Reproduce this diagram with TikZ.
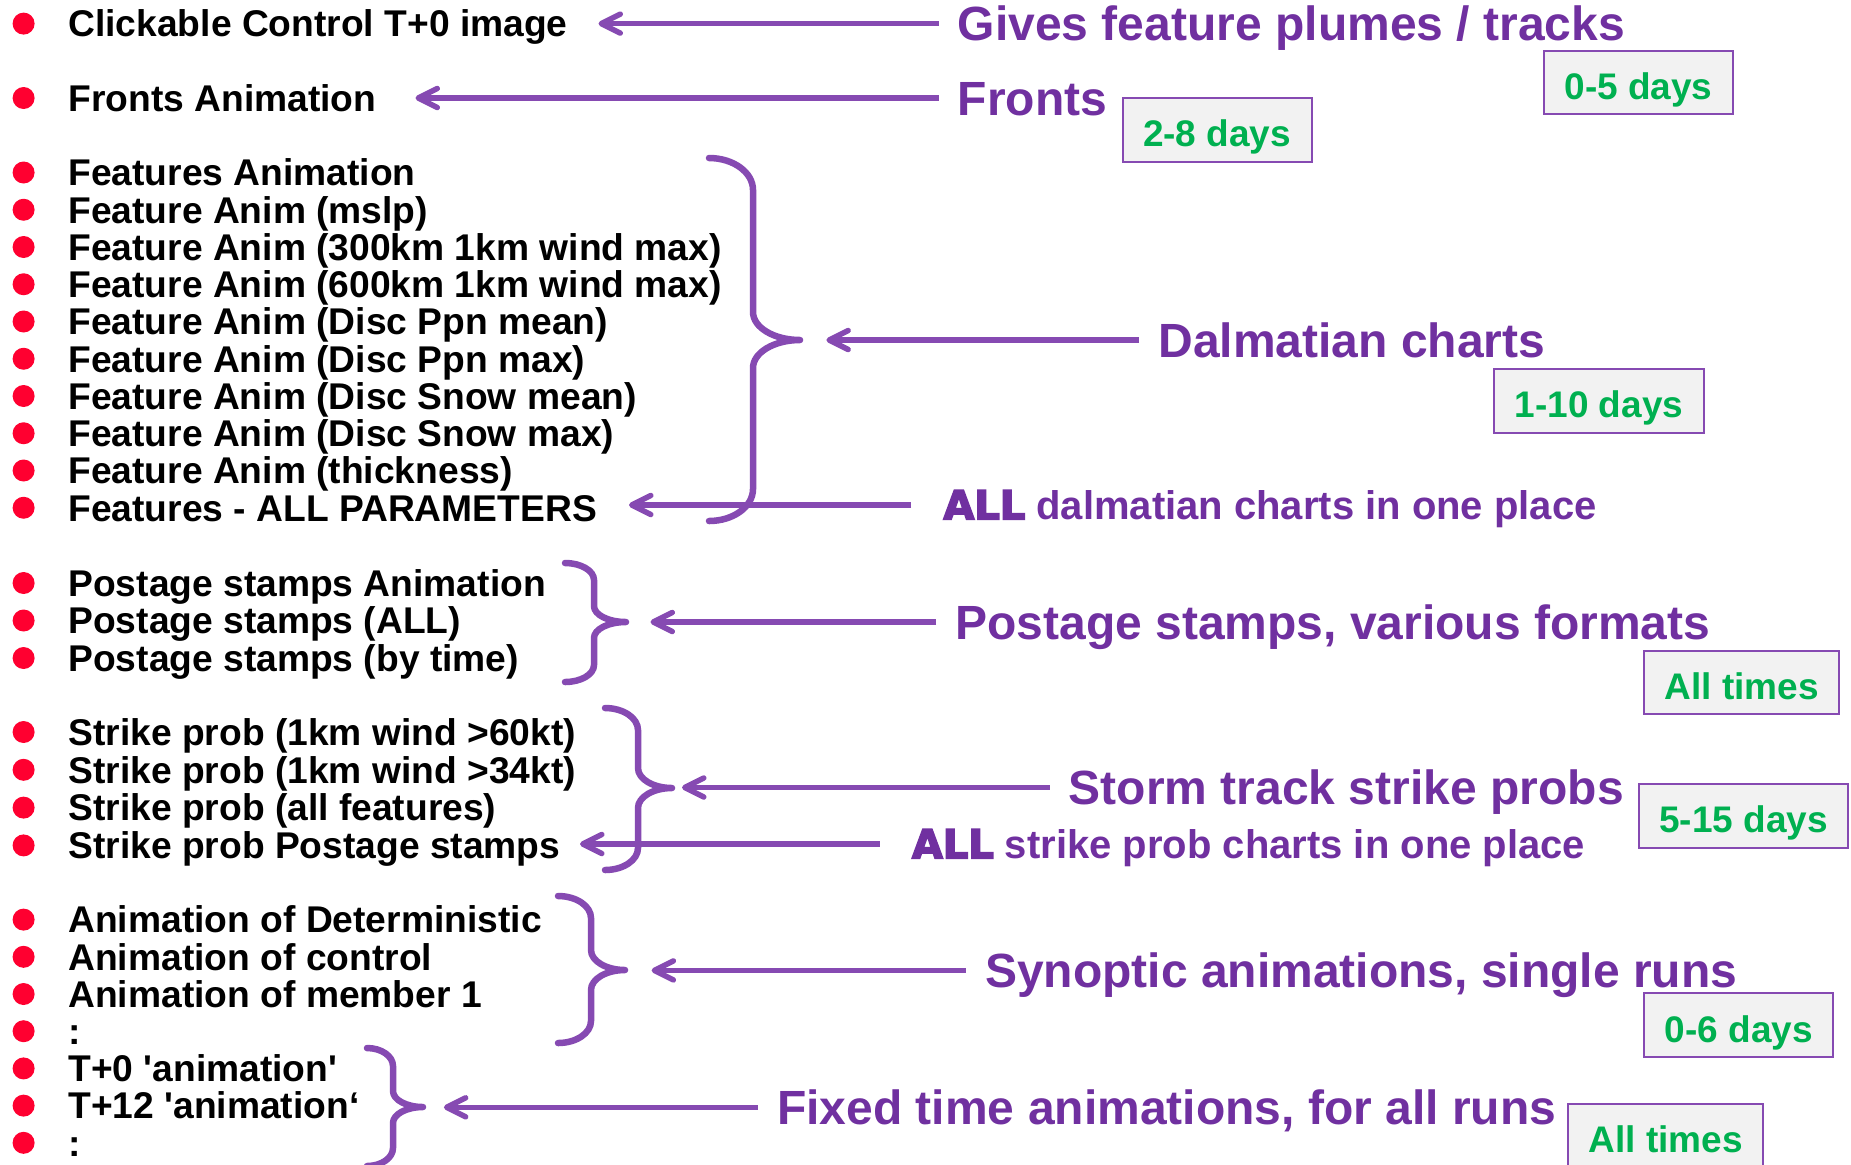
\documentclass[tikz,border=0pt]{standalone}
\usepackage{fontspec}
\setmainfont{Liberation Sans}[Ligatures=TeXOff]
\newfontface\heavyfont{DejaVu Sans Bold}[Ligatures=TeXOff,FakeBold=4]
\usetikzlibrary{arrows.meta}
\definecolor{txtpurple}{RGB}{112,48,160}
\definecolor{linepurple}{RGB}{134,74,178}
\definecolor{boxgreen}{RGB}{0,176,80}
\definecolor{boxfill}{RGB}{242,242,242}
\definecolor{bulletred}{RGB}{255,0,48}
\tikzset{
 listitem/.style={anchor=west, inner sep=0pt, font=\bfseries\fontsize{18.6pt}{22pt}\selectfont, text height=13.3pt, text depth=0pt},
 bul/.style={circle, fill=bulletred, minimum size=11pt, inner sep=0pt},
 lbl/.style={anchor=west, inner xsep=9.5pt, inner ysep=0pt, text=txtpurple, font=\bfseries\fontsize{24pt}{28pt}\selectfont, text height=17.2pt, text depth=0pt},
 lblsm/.style={anchor=west, inner xsep=16pt, inner ysep=0pt, text=txtpurple, font=\bfseries\fontsize{20pt}{24pt}\selectfont, text height=14.3pt, text depth=0pt},
 daybox/.style={draw=linepurple, line width=1pt, fill=boxfill, text=boxgreen, font=\bfseries\fontsize{18.5pt}{22pt}\selectfont, inner xsep=10.25pt, inner ysep=0pt, minimum height=31.85pt, text height=16.8pt, text depth=0pt},
 arr/.style={draw=linepurple, line width=2.75pt, -{Straight Barb[length=9.5pt,width=9.5pt,line cap=round,line join=round]}},
 bracestroke/.style={draw=linepurple, line width=3.25pt, line cap=round, line join=round},
}
% #1 x0, #2 x1, #3 x2, #4 ytop, #5 ymid, #6 ybot, #7 r, #8 r2
\newcommand{\drawcurlybrace}[8]{%
 \pgfmathsetmacro\bxa{#1+0.5523*(#2-#1)}%
 \pgfmathsetmacro\bya{#4+0.4477*#7}%
 \pgfmathsetmacro\byb{#4+#7}%
 \pgfmathsetmacro\byc{#5-#8}%
 \pgfmathsetmacro\byd{#5-0.4477*#8}%
 \pgfmathsetmacro\bxe{#3-0.5523*(#3-#2)}%
 \pgfmathsetmacro\byf{#5+#8}%
 \pgfmathsetmacro\byg{#5+0.4477*#8}%
 \pgfmathsetmacro\byh{#6-#7}%
 \pgfmathsetmacro\byi{#6-0.4477*#7}%
 \draw[bracestroke] (#1,#4) .. controls (\bxa,#4) and (#2,\bya) .. (#2,\byb) -- (#2,\byc) .. controls (#2,\byd) and (\bxe,#5) .. (#3,#5) .. controls (\bxe,#5) and (#2,\byg) .. (#2,\byf) -- (#2,\byh) .. controls (#2,\byi) and (\bxa,#6) .. (#1,#6);
}
\begin{document}
\begin{tikzpicture}[x=0.5pt,y=-0.5pt]
\fill[white] (0,0) rectangle (1851,1164);
\useasboundingbox (0,0) rectangle (1851,1164);
\begin{scope}
\clip (0,0) rectangle (1851,1164);

% ---------- left list ----------
\node[bul] (b1) at (23.6,23.6) {};
\node[listitem] (cc) at (68,23.6) {Clickable Control T+0 image};
\node[bul] (b2) at (23.6,98) {};
\node[listitem] (fa) at (68,98) {Fronts Animation};

\node[bul] (b3) at (23.6,172.5) {};
\node[listitem] (f1) at (68,172.5) {Features Animation};
\node[bul] (b4) at (23.6,209.75) {};
\node[listitem] (f2) at (68,209.75) {Feature Anim (mslp)};
\node[bul] (b5) at (23.6,247) {};
\node[listitem] (f3) at (68,247) {Feature Anim (300km 1km wind max)};
\node[bul] (b6) at (23.6,284.25) {};
\node[listitem] (f4) at (68,284.25) {Feature Anim (600km 1km wind max)};
\node[bul] (b7) at (23.6,321.5) {};
\node[listitem] (f5) at (68,321.5) {Feature Anim (Disc Ppn mean)};
\node[bul] (b8) at (23.6,358.75) {};
\node[listitem] (f6) at (68,358.75) {Feature Anim (Disc Ppn max)};
\node[bul] (b9) at (23.6,396) {};
\node[listitem] (f7) at (68,396) {Feature Anim (Disc Snow mean)};
\node[bul] (b10) at (23.6,433.25) {};
\node[listitem] (f8) at (68,433.25) {Feature Anim (Disc Snow max)};
\node[bul] (b11) at (23.6,470.5) {};
\node[listitem] (f9) at (68,470.5) {Feature Anim (thickness)};
\node[bul] (b12) at (23.6,507.75) {};
\node[listitem] (f10) at (68,507.75) {Features - ALL PARAMETERS};

\node[bul] (b13) at (23.6,583) {};
\node[listitem] (p1) at (68,583) {Postage stamps Animation};
\node[bul] (b14) at (23.6,620.5) {};
\node[listitem] (p2) at (68,620.5) {Postage stamps (ALL)};
\node[bul] (b15) at (23.6,658) {};
\node[listitem] (p3) at (68,658) {Postage stamps (by time)};

\node[bul] (b16) at (23.6,732) {};
\node[listitem] (s1) at (68,732) {Strike prob (1km wind >60kt)};
\node[bul] (b17) at (23.6,769.8) {};
\node[listitem] (s2) at (68,769.8) {Strike prob (1km wind >34kt)};
\node[bul] (b18) at (23.6,807.6) {};
\node[listitem] (s3) at (68,807.6) {Strike prob (all features)};
\node[bul] (b19) at (23.6,845.4) {};
\node[listitem] (s4) at (68,845.4) {Strike prob Postage stamps};

\node[bul] (b20) at (23.6,919.6) {};
\node[listitem] (n1) at (68,919.6) {Animation of Deterministic};
\node[bul] (b21) at (23.6,956.8) {};
\node[listitem] (n2) at (68,956.8) {Animation of control};
\node[bul] (b22) at (23.6,994) {};
\node[listitem] (n3) at (68,994) {Animation of member 1};
\node[bul] (b23) at (23.6,1031.2) {};
\node[listitem] (n4) at (68,1031.2) {:};
\node[bul] (b24) at (23.6,1068.4) {};
\node[listitem] (n5) at (68,1068.4) {T+0 'animation'};
\node[bul] (b25) at (23.6,1105.6) {};
\node[listitem] (n6) at (68,1105.6) {T+12 'animation‘};
\node[bul] (b26) at (23.6,1142.8) {};
\node[listitem] (n7) at (68,1142.8) {:};

% ---------- braces ----------
\drawcurlybrace{709}{753}{800}{158}{340}{521}{32}{28}
\drawcurlybrace{565}{594}{626}{563}{622}{682}{17}{16}
\drawcurlybrace{605}{638}{672}{708}{788}{870}{22}{20}
\drawcurlybrace{558}{591}{625}{896}{970}{1043}{22}{20}
\drawcurlybrace{367}{393}{423}{1048}{1107}{1166}{18}{16}

% ---------- right labels ----------
\node[lbl] (gfp) at (938.5,23.6) {Gives feature plumes / tracks};
\node[lbl] (frl) at (938.5,98) {Fronts};
\node[lbl] (dal) at (1139,340) {Dalmatian charts};
\node[lblsm] (alld) at (911,505) {{\heavyfont ALL} dalmatian charts in one place};
\node[lbl] (pst) at (936,622) {Postage stamps, various formats};
\node[lbl] (stk) at (1049.5,787.5) {Storm track strike probs};
\node[lblsm] (alls) at (879.5,844) {{\heavyfont ALL} strike prob charts in one place};
\node[lbl] (syn) at (965.6,970.4) {Synoptic animations, single runs};
\node[lbl] (fix) at (757.9,1107.3) {Fixed time animations, for all runs};

% ---------- arrow targets ----------
\coordinate (t1) at (598.5,23.6);
\coordinate (t2) at (415.5,98);
\coordinate (tF) at (826.4,340);
\coordinate (t4) at (629,505);
\coordinate (tP) at (650.5,622);
\coordinate (tS) at (682,787.5);
\coordinate (t7) at (580,844);
\coordinate (tY) at (651.6,970.4);
\coordinate (tX) at (443.9,1107.3);

\draw[arr] (gfp.west) -- (t1);
\draw[arr] (frl.west) -- (t2);
\draw[arr] (dal.west) -- (tF);
\draw[arr] (alld.west) -- (t4);
\draw[arr] (pst.west) -- (tP);
\draw[arr] (stk.west) -- (tS);
\draw[arr] (alls.west) -- (t7);
\draw[arr] (syn.west) -- (tY);
\draw[arr] (fix.west) -- (tX);

% ---------- day boxes ----------
\node[daybox] (d05) at (1638.5,82.6) {0-5 days};
\node[daybox] (d28) at (1217.1,129.9) {2-8 days};
\node[daybox] (d110) at (1599,400.8) {1-10 days};
\node[daybox] (dall1) at (1741.8,682.4) {All times};
\node[daybox] (d515) at (1743.6,815.8) {5-15 days};
\node[daybox] (d06) at (1738.9,1025.3) {0-6 days};
\node[daybox] (dall2) at (1665.7,1136) {All times};
\end{scope}
\end{tikzpicture}
\end{document}
